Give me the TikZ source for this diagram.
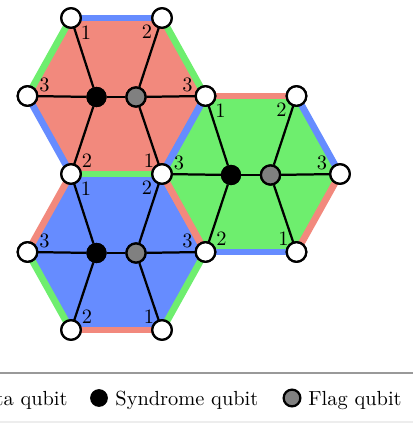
\documentclass[tikz,border=0pt]{standalone}
\definecolor{pRed}{RGB}{242,137,125}
\definecolor{pBlue}{RGB}{102,140,255}
\definecolor{pGreen}{RGB}{110,238,110}
\newcommand\hexco[3]{%
  \coordinate (#1TL) at ({#2-45.5},{#3-78});
  \coordinate (#1TR) at ({#2+45.5},{#3-78});
  \coordinate (#1L)  at ({#2-89},{#3});
  \coordinate (#1R)  at ({#2+89},{#3});
  \coordinate (#1BL) at ({#2-45.5},{#3+78});
  \coordinate (#1BR) at ({#2+45.5},{#3+78});
  \coordinate (#1S)  at ({#2-20},{#3+1});
  \coordinate (#1F)  at ({#2+19.5},{#3+1});
}
\newcommand\hexfill[2]{%
  \fill[#2] (#1TL) -- (#1TR) -- (#1R) -- (#1BR) -- (#1BL) -- (#1L) -- cycle;
}
% edge colours: top, upper-right, lower-right, bottom, lower-left, upper-left
\newcommand\hexstripes[7]{%
  \draw[stripe,#2] (#1TL) -- (#1TR);
  \draw[stripe,#3] (#1TR) -- (#1R);
  \draw[stripe,#4] (#1R) -- (#1BR);
  \draw[stripe,#5] (#1BR) -- (#1BL);
  \draw[stripe,#6] (#1BL) -- (#1L);
  \draw[stripe,#7] (#1L) -- (#1TL);
}
\newcommand\hexcheck[1]{%
  \node[syndq] (#1Sn) at (#1S) {};
  \node[flagq] (#1Fn) at (#1F) {};
  \draw[spoke] (#1Sn) -- (#1Fn);
  \draw[spoke] (#1Sn) -- (#1TL);
  \draw[spoke] (#1Sn) -- (#1L);
  \draw[spoke] (#1Sn) -- (#1BL);
  \draw[spoke] (#1Fn) -- (#1TR);
  \draw[spoke] (#1Fn) -- (#1R);
  \draw[spoke] (#1Fn) -- (#1BR);
  \node[syndq] at (#1S) {};
  \node[flagq] at (#1F) {};
}
\newcommand\hexnums[1]{%
  \path (#1TL) ++(15,15)   node[num] (#1nTL) {1};
  \path (#1TR) ++(-15,14)  node[num] (#1nTR) {2};
  \path (#1L)  ++(17,-11)  node[num] (#1nL)  {3};
  \path (#1R)  ++(-18,-11) node[num] (#1nR)  {3};
  \path (#1BL) ++(16,-13)  node[num] (#1nBL) {2};
  \path (#1BR) ++(-13,-13) node[num] (#1nBR) {1};
}
\begin{document}
\begin{tikzpicture}[x=0.4902pt,y=-0.4902pt,
  stripe/.style={line width=3.3pt},
  spoke/.style={line width=1.1pt,black},
  dataq/.style={circle,draw=black,fill=white,line width=1.1pt,minimum size=9.6pt,inner sep=0pt},
  syndq/.style={circle,draw=black,fill=black,line width=1.1pt,minimum size=8.8pt,inner sep=0pt},
  flagq/.style={circle,draw=black,fill=black!50,line width=1.1pt,minimum size=9.4pt,inner sep=0pt},
  num/.style={inner sep=0pt},
  legtext/.style={inner sep=0pt}]
\useasboundingbox (0,0) rectangle (413,423);
\clip (0,0) rectangle (413,423);
\hexco{r}{116.5}{96}
\hexco{g}{251}{174}
\hexco{b}{116.5}{252}
% plaquette fills
\hexfill{r}{pRed}
\hexfill{g}{pGreen}
\hexfill{b}{pBlue}
% edge stripes
\hexstripes{r}{pBlue}{pGreen}{pBlue}{pGreen}{pBlue}{pGreen}
\hexstripes{b}{pGreen}{pRed}{pGreen}{pRed}{pGreen}{pRed}
\hexstripes{g}{pRed}{pBlue}{pRed}{pBlue}{pRed}{pBlue}
% data qubits (unique)
\node[dataq] (d1)  at (rTL) {};
\node[dataq] (d2)  at (rTR) {};
\node[dataq] (d3)  at (rL) {};
\node[dataq] (d4)  at (rR) {};
\node[dataq] (d5)  at (rBL) {};
\node[dataq] (d6)  at (rBR) {};
\node[dataq] (d7)  at (gTR) {};
\node[dataq] (d8)  at (gR) {};
\node[dataq] (d9)  at (gBL) {};
\node[dataq] (d10) at (gBR) {};
\node[dataq] (d11) at (bL) {};
\node[dataq] (d12) at (bBL) {};
\node[dataq] (d13) at (bBR) {};
% checks
\hexcheck{r}
\hexcheck{g}
\hexcheck{b}
% redraw data qubits above spokes
\foreach \c in {rTL,rTR,rL,rR,rBL,rBR,gTR,gR,gBL,gBR,bL,bBL,bBR}{\node[dataq] at (\c) {};}
% labels
\hexnums{r}
\hexnums{g}
\hexnums{b}
% legend
\draw[black!40,line width=1pt] (0,373) -- (413,373);
\draw[black!7,line width=0.6pt] (0,422) -- (413,422);
\node[legtext,anchor=base east] (ldt) at (68,405) {Data qubit};
\node[syndq,minimum size=7.6pt] (ls) at (99,398) {};
\node[legtext,anchor=base west] (lst) at (115,405) {Syndrome qubit};
\node[flagq,minimum size=8.2pt] (lf) at (292,398) {};
\node[legtext,anchor=base west] (lft) at (308,405) {Flag qubit};
\end{tikzpicture}
\end{document}
